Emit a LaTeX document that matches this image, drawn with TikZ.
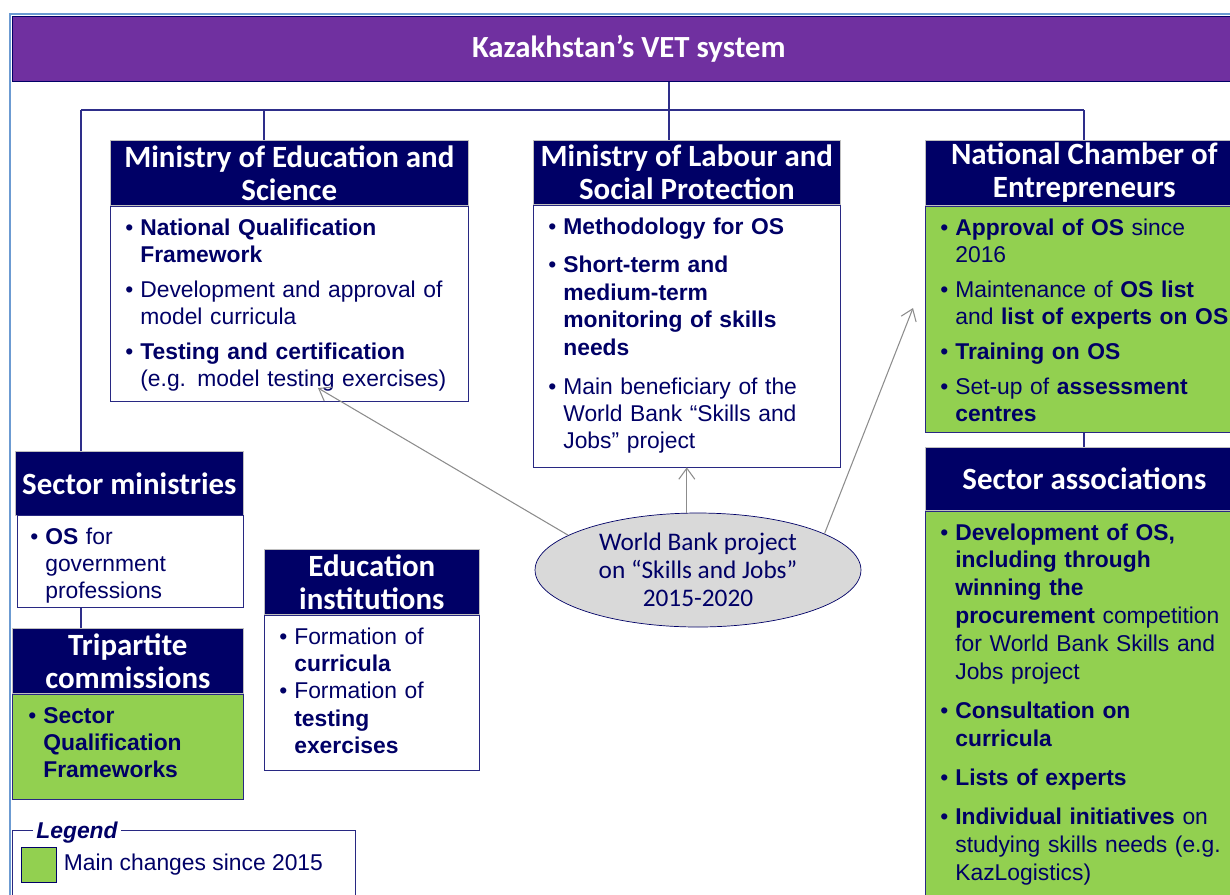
\documentclass[tikz,border=0pt]{standalone}
\usepackage{fontspec}
\setmainfont{Liberation Sans}
\newfontfamily\hdfont{Carlito}
\usetikzlibrary{positioning,shapes.geometric,arrows.meta}
\pgfdeclarelayer{background}
\pgfsetlayers{background,main}
\definecolor{hdnavy}{RGB}{0,0,102}
\definecolor{boxline}{RGB}{40,40,130}
\definecolor{busline}{RGB}{46,46,138}
\definecolor{framelb}{RGB}{108,155,210}
\definecolor{vetpurple}{RGB}{112,48,160}
\definecolor{chgreen}{RGB}{146,208,80}
\definecolor{wbgray}{RGB}{217,217,217}
\definecolor{arrgray}{RGB}{140,140,140}
\newcommand{\bitem}[1]{\noindent\hangindent=0.3cm\hangafter=1\hbox to 0.3cm{\textbullet\hfil}#1\par}

\begin{document}
\begin{tikzpicture}[x=0.02cm, y=-0.02cm,
	titlebar/.style={fill=vetpurple, draw=hdnavy, text=white, anchor=north west, inner sep=0pt, minimum width=24.66cm, minimum height=1.3cm, font=\hdfont\bfseries\fontsize{17.5}{19}\selectfont},
	hdr/.style={fill=hdnavy, draw=gray!50, text=white, anchor=north west, align=center, inner sep=0pt, font=\hdfont\bfseries\fontsize{17.6}{18.8}\selectfont},
	box/.style={draw=boxline, fill=white, text=hdnavy, anchor=north west, align=left, inner xsep=0.3cm, inner ysep=0pt, text height=0.58cm, font=\fontsize{13}{15.4}\selectfont\setlength{\parskip}{0.16cm}},
	greenbox/.style={box, fill=chgreen},
	widegap/.style={font=\fontsize{13}{15.6}\selectfont\setlength{\parskip}{0.23cm}},
	wbank/.style={ellipse, draw=hdnavy, fill=wbgray, text=hdnavy, inner sep=0pt, minimum width=6.52cm, minimum height=2.28cm, align=center, font=\hdfont\fontsize{14.4}{16}\selectfont},
	bus/.style={draw=busline, line width=1pt},
	arr/.style={draw=arrgray, line width=0.6pt, -{Straight Barb[length=2.2mm, width=3.2mm]}},
	]
	\useasboundingbox (0,0) rectangle (1230,894);
	\clip (0,0) rectangle (1230,894);
	\draw[framelb, line width=1pt] (10,14) rectangle (1260,920);
	
	%Nodes
	\node[titlebar] (bar) at (12,16) {Kazakhstan’s VET system};
	
	\node[hdr, minimum width=7.16cm, minimum height=1.3cm] (moeh) at (110,140) {Ministry of Education and\\Science};
	\node[box, text width=6.56cm, text depth=3.32cm] (moe) at (moeh.south west) {%
		\bitem{\textbf{National Qualification}\newline\textbf{Framework}}
		\bitem{Development and approval of\newline model curricula}
		\bitem{\textbf{Testing and certification}\newline (e.g. model testing exercises)}};
	
	\node[hdr, minimum width=6.14cm, minimum height=1.28cm] (molh) at (533,140) {Ministry of Labour and\\Social Protection};
	\node[box, widegap, text width=5.54cm, text depth=4.66cm] (mol) at (molh.south west) {%
		\bitem{\textbf{Methodology for OS}}
		\bitem{\textbf{Short-term and}\newline\textbf{medium-term}\newline\textbf{monitoring of skills}\newline\textbf{needs}}
		\bitem{Main beneficiary of the\newline World Bank “Skills and\newline Jobs” project}};
	
	\node[hdr, minimum width=6.36cm, minimum height=1.3cm] (nceh) at (925,140) {National Chamber of\\Entrepreneurs};
	\node[greenbox, text width=5.76cm, text depth=3.94cm] (nce) at (nceh.south west) {%
		\bitem{\textbf{Approval of OS} since\newline 2016}
		\bitem{Maintenance of \textbf{OS list}\newline and \textbf{list of experts on OS}}
		\bitem{\textbf{Training on OS}}
		\bitem{Set-up of \textbf{assessment}\newline\textbf{centres}}};
	
	\node[hdr, minimum width=6.36cm, minimum height=1.26cm] (sah) at (925,447) {Sector associations};
	\node[greenbox, text width=5.76cm, text depth=7.22cm, font=\fontsize{13}{15.9}\selectfont\setlength{\parskip}{0.22cm}] (sa) at (sah.south west) {%
		\bitem{\textbf{Development of OS,}\newline\textbf{including through}\newline\textbf{winning the}\newline\textbf{procurement} competition\newline for World Bank Skills and\newline Jobs project}
		\bitem{\textbf{Consultation on}\newline\textbf{curricula}}
		\bitem{\textbf{Lists of experts}}
		\bitem{\textbf{Individual initiatives} on\newline studying skills needs (e.g.\newline KazLogistics)}};
	
	\node[hdr, minimum width=4.56cm, minimum height=1.28cm] (smh) at (15,451) {Sector ministries};
	\node[box, inner xsep=0.26cm, text width=4.0cm, text depth=1.26cm] (sm) at (17,515) {%
		\bitem{\textbf{OS} for\newline government\newline professions}};
	
	\node[hdr, minimum width=4.62cm, minimum height=1.3cm] (tch) at (12,628) {Tripartite\\commissions};
	\node[greenbox, inner xsep=0.32cm, text width=3.98cm, text depth=1.52cm] (tc) at (tch.south west) {%
		\bitem{\textbf{Sector}\newline\textbf{Qualification}\newline\textbf{Frameworks}}};
	
	\node[hdr, minimum width=4.3cm, minimum height=1.3cm] (eih) at (264,549) {Education\\institutions};
	\node[box, text width=3.7cm, text depth=2.52cm, font=\fontsize{13}{15.6}\selectfont] (ei) at (eih.south west) {%
		\bitem{Formation of\newline\textbf{curricula}}
		\bitem{Formation of\newline\textbf{testing}\newline\textbf{exercises}}};
	
	\node[wbank] (wb) at (698,570) {World Bank project\\on “Skills and Jobs”\\2015-2020};
	
	%Legend
	\node[draw=boxline, anchor=north west, inner sep=0pt, minimum width=6.86cm, minimum height=1.8cm] (legend) at (12,830) {};
	\node[fill=white, text=hdnavy, inner xsep=2pt, inner ysep=0pt, font=\bfseries\itshape\fontsize{13}{15}\selectfont] (legtitle) at (77,833) {Legend};
	\node[draw=hdnavy, fill=chgreen, anchor=north west, minimum size=0.7cm, inner sep=0pt] (legsq) at (21,847) {};
	\node[right=0.02cm of legsq, text=hdnavy, font=\fontsize{13}{15}\selectfont] (legtext) {Main changes since 2015};
	
	\coordinate (busL) at (81,110);
	\coordinate (busE) at (264,110);
	\coordinate (busM) at (669,110);
	\coordinate (busR) at (1084,110);
	\coordinate (moetip) at (318,388);
	\coordinate (ncetip) at (913,308);
	
	\begin{pgfonlayer}{background}
	\draw[bus] (busM |- bar.south) -- (busM);
	\draw[bus] (busL) -- (busR);
	\draw[bus] (busE) -- (busE |- moeh.north);
	\draw[bus] (busM) -- (busM |- molh.north);
	\draw[bus] (busR) -- (busR |- nceh.north);
	\draw[bus] (busL) -- (busL |- smh.north);
	\draw[bus] (busL |- sm.south) -- (busL |- tch.north);
	\draw[bus] (busR |- nce.south) -- (busR |- sah.north);
	\end{pgfonlayer}
	
	\draw[arr] (wb.165) -- (moetip);
	\draw[arr] (wb.north -| mol.south) -- (mol.south);
	\draw[arr] (wb.16) -- (ncetip);
\end{tikzpicture}
\end{document}
